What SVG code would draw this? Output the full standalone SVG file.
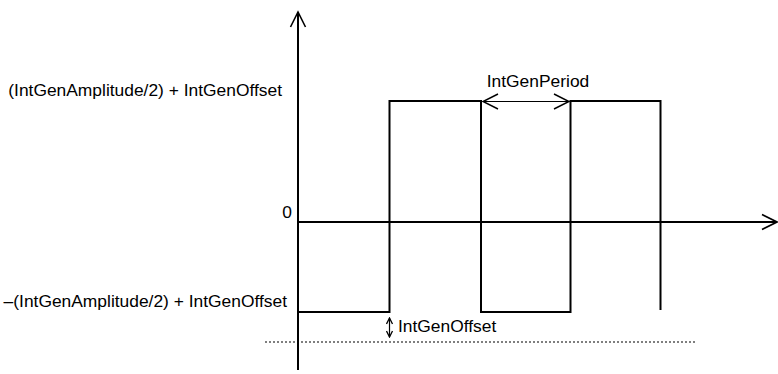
<svg xmlns="http://www.w3.org/2000/svg" width="778" height="374" viewBox="0 0 778 374">
  <style>
    .ln { fill: none; stroke: #000; stroke-width: 2; }
    .thin { fill: none; stroke: #000; stroke-width: 1.2; }
    .dot { fill: none; stroke: #000; stroke-width: 1.2; stroke-dasharray: 2 2; }
    .lbl { font-family: "Liberation Sans", Arial, sans-serif; font-size: 17.4px; fill: #000; }
  </style>
  <defs>
    <marker id="open" viewBox="0 0 18 18" refX="16" refY="9" markerWidth="18" markerHeight="18" markerUnits="userSpaceOnUse" orient="auto-start-reverse">
      <path d="M1,1.5 L16,9 L1,16.5" fill="none" stroke="#000" stroke-width="1.6"/>
    </marker>
    <marker id="mid" viewBox="0 0 18 18" refX="16" refY="9" markerWidth="18" markerHeight="18" markerUnits="userSpaceOnUse" orient="auto-start-reverse">
      <path d="M1,1.5 L16,9 L1,16.5" fill="none" stroke="#000" stroke-width="1.4"/>
    </marker>
    <marker id="small" viewBox="0 0 8 8" refX="7" refY="4" markerWidth="8" markerHeight="8" markerUnits="userSpaceOnUse" orient="auto-start-reverse">
      <path d="M1,1 L7,4 L1,7" fill="none" stroke="#000" stroke-width="1.3"/>
    </marker>
  </defs>

  <!-- axes -->
  <g id="axes">
    <line class="ln" x1="298" y1="370" x2="298" y2="12" marker-end="url(#open)"/>
    <line class="ln" x1="298" y1="222" x2="777" y2="222" marker-end="url(#open)"/>
  </g>

  <!-- square wave -->
  <g id="waveform">
    <polyline class="ln" points="298,312 389.5,312 389.5,101 481,101 481,312 570.5,312 570.5,101 660.5,101 660.5,310"/>
  </g>

  <!-- offset reference -->
  <g id="offset-line">
    <line class="dot" x1="265" y1="342" x2="696" y2="342"/>
  </g>

  <!-- dimension arrows -->
  <g id="connectors">
    <line class="thin" x1="483" y1="101.5" x2="569" y2="101.5" marker-start="url(#mid)" marker-end="url(#mid)"/>
    <line class="thin" x1="389.5" y1="318" x2="389.5" y2="337" marker-start="url(#small)" marker-end="url(#small)"/>
  </g>

  <!-- labels -->
  <g id="labels">
    <text class="lbl" x="282" y="96" text-anchor="end">(IntGenAmplitude/2) + IntGenOffset</text>
    <text class="lbl" x="287" y="307" text-anchor="end">–(IntGenAmplitude/2) + IntGenOffset</text>
    <text class="lbl" x="292" y="218" text-anchor="end">0</text>
    <text class="lbl" x="538" y="87" text-anchor="middle">IntGenPeriod</text>
    <text class="lbl" x="398" y="332">IntGenOffset</text>
  </g>
</svg>
